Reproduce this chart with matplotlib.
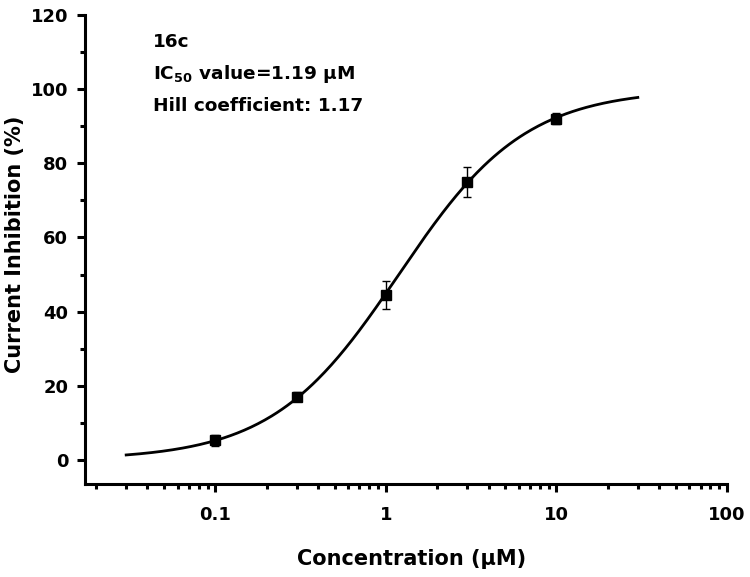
import numpy as np
import matplotlib
matplotlib.use("Agg")
import matplotlib.pyplot as plt
from matplotlib.ticker import LogLocator, MultipleLocator, FixedLocator, NullFormatter

plt.rcParams['font.family'] = ['DejaVu Sans']
plt.rcParams['font.weight'] = 'bold'
plt.rcParams['mathtext.fontset'] = 'custom'
plt.rcParams['mathtext.rm'] = 'DejaVu Sans:bold'
plt.rcParams['mathtext.it'] = 'DejaVu Sans:bold'
plt.rcParams['mathtext.bf'] = 'DejaVu Sans:bold'

# data
concentration = [0.1, 0.3, 1, 3, 10]
inhibition = [5.3, 17.0, 44.4, 75.0, 92.0]
error = [1.5, 1.2, 3.8, 4.0, 1.5]
ic50 = 1.19
hill = 1.17
curve_range = [0.03, 30]
xticks = [0.1, 1, 10, 100]
xtick_labels = ['0.1', '1', '10', '100']
yticks = [0, 20, 40, 60, 80, 100, 120]

fig = plt.figure(figsize=(7.5, 5.77), dpi=100)
ax = fig.add_axes([0.1133, 0.1612, 0.856, 0.8128])

xc = np.logspace(np.log10(curve_range[0]), np.log10(curve_range[1]), 300)
yc = 100.0 / (1.0 + (ic50 / xc) ** hill)
ax.plot(xc, yc, color='black', lw=2.0, zorder=2)
ax.errorbar(concentration, inhibition, yerr=error, fmt='s', color='black',
            ms=7, elinewidth=1.0, capsize=3.2, capthick=1.0, zorder=3)

ax.set_xscale('log')
ax.set_xlim(0.0172, 100)
ax.set_ylim(-6.5, 120)
ax.xaxis.set_major_locator(FixedLocator(xticks))
ax.set_xticklabels(xtick_labels)
ax.xaxis.set_minor_locator(LogLocator(base=10, subs=np.arange(2, 10)))
ax.xaxis.set_minor_formatter(NullFormatter())
ax.yaxis.set_major_locator(FixedLocator(yticks))
ax.yaxis.set_minor_locator(MultipleLocator(10))

for s in ['top', 'right']:
    ax.spines[s].set_visible(False)
for s in ['left', 'bottom']:
    ax.spines[s].set_linewidth(2.2)

ax.tick_params(which='major', direction='out', length=6, width=2.2, labelsize=13)
ax.tick_params(which='minor', direction='out', length=3.5, width=2.2)
ax.tick_params(axis='x', which='major', pad=10)
ax.tick_params(axis='y', which='major', pad=6)
for lab in ax.get_xticklabels() + ax.get_yticklabels():
    lab.set_fontweight('bold')

ax.set_xlabel('Concentration (μM)', fontsize=15, fontweight='bold')
ax.set_ylabel('Current Inhibition (%)', fontsize=15, fontweight='bold')
ax.xaxis.set_label_coords(0.508, -0.138)
ax.yaxis.set_label_coords(-0.0935, 0.51)

tx = 0.106
ax.text(tx, 0.942, '16c', transform=ax.transAxes, fontsize=13.3, fontweight='bold', va='center')
ax.text(tx, 0.874, 'IC$_{50}$ value=1.19 μM', transform=ax.transAxes, fontsize=13.3, fontweight='bold', va='center')
ax.text(tx, 0.806, 'Hill coefficient: 1.17', transform=ax.transAxes, fontsize=13.3, fontweight='bold', va='center')

fig.savefig('out.png', dpi=100)
